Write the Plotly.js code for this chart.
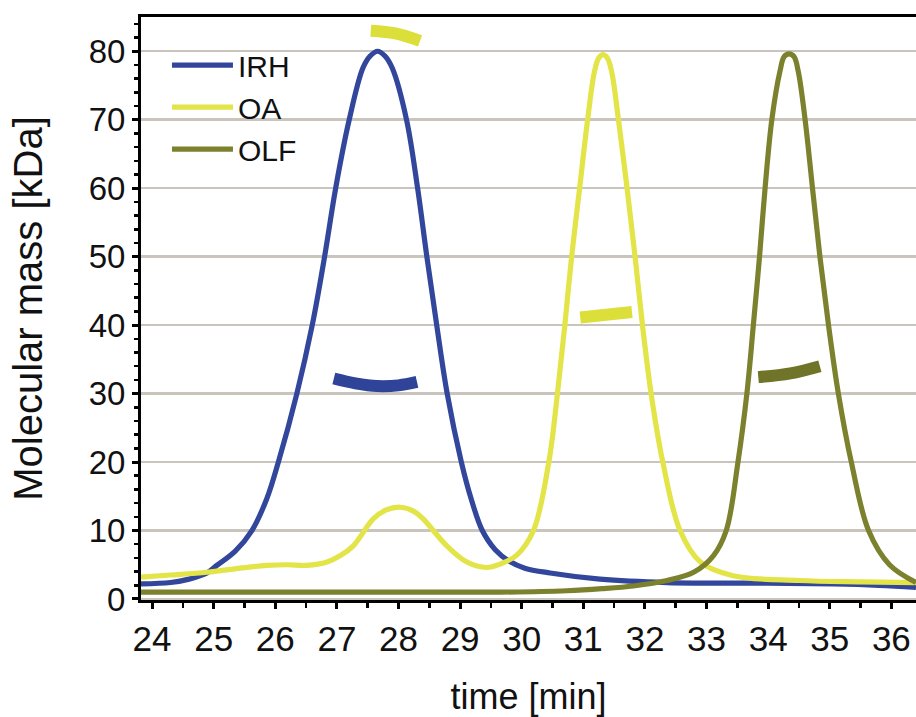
<!DOCTYPE html>
<html>
<head>
<meta charset="utf-8">
<script src="https://cdn.plot.ly/plotly-3.0.1.min.js"></script>
<style>html,body{margin:0;padding:0;background:#fff;}#chart{width:916px;height:717px;}</style>
</head>
<body>
<div id="chart"></div>
<script>
// ---- data ----
const seriesNames = ["IRH", "OA", "OLF"];
const seriesColors = ["#32469b", "#e2e448", "#7c812e"];
const markColors = ["#2f4499", "#dcdf3a", "#6f7428"];

const irhTime = [23.82, 24.3, 24.6, 24.89, 25.05, 25.35, 25.62, 25.86, 26.05, 26.35, 26.6, 26.8, 26.98, 27.2, 27.42, 27.54, 27.66, 27.78, 27.9, 28.13, 28.31, 28.46, 28.62, 28.79, 29.02, 29.18, 29.36, 29.57, 29.8, 30.05, 30.46, 31.27, 32.36, 33.98, 35.06, 35.8, 36.4];
const irhMass = [2.2, 2.4, 2.9, 3.8, 4.9, 7.0, 10, 14.6, 20, 30, 40, 50, 60, 70, 77.5, 79.3, 80, 79.3, 77.5, 70, 60, 50, 40, 30, 20, 14.6, 10, 7.2, 5.5, 4.5, 3.8, 2.9, 2.4, 2.3, 2.2, 2.0, 1.7];

const oaTime = [23.82, 24.3, 24.89, 25.43, 25.86, 26.2, 26.51, 26.84, 27.05, 27.27, 27.59, 27.8, 28.03, 28.25, 28.4, 28.78, 29.11, 29.43, 29.65, 29.92, 30.19, 30.44, 30.58, 30.7, 30.81, 30.94, 31.07, 31.18, 31.25, 31.32, 31.39, 31.46, 31.57, 31.71, 31.84, 31.96, 32.1, 32.29, 32.57, 32.9, 33.43, 34.5, 35.5, 36.4];
const oaMass = [3.2, 3.5, 3.9, 4.5, 4.9, 5.0, 4.9, 5.4, 6.3, 7.8, 11.7, 13.0, 13.4, 12.8, 11.7, 7.8, 5.4, 4.6, 5.1, 6.4, 10, 20, 30, 40, 50, 60, 70, 77, 79, 79.5, 79, 77, 70, 60, 50, 40, 30, 20, 10, 5.4, 3.4, 2.7, 2.5, 2.4];

const olfTime = [23.82, 26.0, 28.0, 29.65, 30.73, 31.3, 31.81, 32.36, 32.79, 33.11, 33.32, 33.51, 33.655, 33.76, 33.86, 33.95, 34.06, 34.19, 34.26, 34.34, 34.42, 34.49, 34.6, 34.72, 34.84, 34.98, 35.14, 35.35, 35.63, 35.97, 36.4];
const olfMass = [1.0, 1.0, 1.0, 1.0, 1.2, 1.5, 1.9, 2.7, 3.9, 6.3, 10, 20, 30, 40, 50, 60, 70, 77, 79.2, 79.6, 79.2, 77, 70, 60, 50, 40, 30, 20, 10, 5.0, 2.4];

// molecular-mass marks drawn over the peaks
const irhMarkTime = [26.95, 27.3, 27.65, 28.0, 28.3];
const irhMarkMass = [32.2, 31.5, 31.1, 31.2, 31.7];
const oaMarkTopTime = [27.55, 27.95, 28.35];
const oaMarkTopMass = [83.0, 82.6, 81.5];
const oaMarkTime = [30.95, 31.79];
const oaMarkMass = [41.1, 41.9];
const olfMarkTime = [33.84, 34.36, 34.84];
const olfMarkMass = [32.4, 32.95, 34.0];

const xTicks = [24, 25, 26, 27, 28, 29, 30, 31, 32, 33, 34, 35, 36];
const yTicks = [0, 10, 20, 30, 40, 50, 60, 70, 80];

const FONT = "Liberation Sans, Arial, sans-serif";

function curve(x, y, i) {
  return {x: x, y: y, type: "scatter", mode: "lines", name: seriesNames[i],
    line: {color: seriesColors[i], width: 5.2, shape: "spline", smoothing: 1}};
}
function mark(x, y, i, w) {
  return {x: x, y: y, type: "scatter", mode: "lines", showlegend: false, hoverinfo: "skip",
    line: {color: markColors[i], width: w, shape: "spline"}};
}

const traces = [
  curve(irhTime, irhMass, 0),
  curve(oaTime, oaMass, 1),
  curve(olfTime, olfMass, 2),
  mark(irhMarkTime, irhMarkMass, 0, 12),
  mark(oaMarkTopTime, oaMarkTopMass, 1, 12),
  mark(oaMarkTime, oaMarkMass, 1, 12),
  mark(olfMarkTime, olfMarkMass, 2, 12)
];

const layout = {
  width: 916, height: 717,
  margin: {l: 141, r: 0, t: 17, b: 117},
  paper_bgcolor: "#ffffff", plot_bgcolor: "#ffffff",
  font: {family: FONT, color: "#000"},
  showlegend: true,
  legend: {x: 0.0335, y: 0.962, xanchor: "left", yanchor: "top", bgcolor: "rgba(0,0,0,0)",
    font: {family: FONT, size: 30, color: "#111"}, itemwidth: 61, tracegroupgap: 0},
  xaxis: {
    range: [23.82, 36.4], tickvals: xTicks, ticktext: xTicks.map(String),
    ticks: "outside", ticklen: 6, tickwidth: 3, tickcolor: "#000",
    showline: true, linecolor: "#000", linewidth: 3, mirror: true,
    showgrid: false, zeroline: false,
    tickfont: {family: FONT, size: 35, color: "#111"},
    minor: {dtick: 0.5, ticks: "outside", ticklen: 5, tickwidth: 2.5, tickcolor: "#000", showgrid: false},
    title: {text: "time [min]", font: {family: FONT, size: 36, color: "#111"}, standoff: 29}
  },
  yaxis: {
    range: [-0.15, 85], tickvals: yTicks, ticktext: yTicks.map(String),
    ticks: "outside", ticklen: 6, tickwidth: 3, tickcolor: "#000",
    showline: true, linecolor: "#000", linewidth: 3,
    showgrid: true, gridcolor: "#c9c4bc", gridwidth: 2.5, zeroline: false,
    tickfont: {family: FONT, size: 33, color: "#111"},
    minor: {dtick: 2, ticks: "outside", ticklen: 4, tickwidth: 2.5, tickcolor: "#000", showgrid: false},
    title: {text: "Molecular mass [kDa]", font: {family: FONT, size: 40, color: "#111"}, standoff: 34}
  }
};

Plotly.newPlot("chart", traces, layout, {staticPlot: true, displayModeBar: false});
</script>
</body>
</html>
